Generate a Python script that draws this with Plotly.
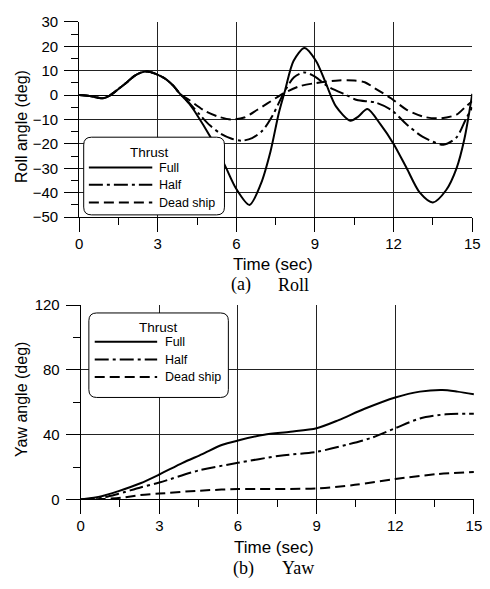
import plotly.graph_objects as go

W, H = 490, 589

# ---------------- data ----------------
roll_full_t = [0, 0.4, 0.9, 1.15, 1.5, 1.85, 2.1, 2.35, 2.6, 2.9, 3.3, 3.6, 3.85, 4.2, 4.45, 5.0, 5.55, 6.0, 6.5,
               6.93, 7.3, 7.62, 7.86, 8.18, 8.6, 9.04, 9.42, 9.8, 10.35, 10.65, 11.0, 11.5, 12.0, 12.5, 13.0,
               13.5, 14.0, 14.4, 14.7, 15.0]
roll_full_v = [0, -0.4, -1.3, -0.3, 2.5, 5.5, 7.8, 9.2, 9.7, 8.8, 6.6, 3.8, 0.5, -3.5, -7.3, -17, -28.5, -38.5, -45,
               -36.5, -23.2, -7.3, 2, 14, 19.3, 14, 4.7, -4.6, -10.5, -8.8, -5.7, -12, -20, -30, -40,
               -44, -39, -30, -18, 0.5]

roll_half_t = [0, 0.4, 0.9, 1.15, 1.5, 1.85, 2.1, 2.35, 2.6, 2.9, 3.3, 3.6, 3.85, 4.2, 4.6, 5.0, 5.4, 5.8, 6.2,
               6.6, 7.0, 7.4, 7.8, 8.2, 8.6, 9.0, 9.5, 10.2, 10.6, 11.3, 11.9, 12.5, 13.1, 13.9, 14.4, 14.75, 15.0]
roll_half_v = [0, -0.4, -1.3, -0.3, 2.5, 5.5, 7.8, 9.2, 9.7, 8.8, 6.6, 3.8, 0.5, -3.2, -8, -12.5, -15.8, -17.8, -18.7,
               -17.6, -14.5, -8, 0.7, 7.3, 9.3, 7.6, 3.5, 0, -2, -3, -6, -12, -17, -20.3, -17.3, -10, -5]

roll_dead_t = [0, 0.4, 0.9, 1.15, 1.5, 1.85, 2.1, 2.35, 2.6, 2.9, 3.3, 3.6, 3.85, 4.2, 4.8, 5.3, 5.8, 6.3, 6.8,
               7.2, 7.8, 8.4, 9.0, 9.9, 10.5, 10.9, 11.3, 11.9, 12.5, 13.2, 13.8, 14.4, 14.75, 15.0]
roll_dead_v = [0, -0.4, -1.3, -0.3, 2.5, 5.5, 7.8, 9.2, 9.7, 8.8, 6.6, 3.8, 0.5, -2, -6.5, -8.8, -10, -9.2, -6,
               -3.3, 0.7, 3.6, 4.9, 6, 6, 5.3, 2.7, -1.3, -6, -9, -9.5, -8, -4.7, -2.5]

yaw_full_t = [0, 0.8, 1.42, 2.28, 3, 3.89, 4.64, 5.38, 6, 7, 8, 9, 9.84, 10.83, 12, 12.94, 13.8, 14.37, 15]
yaw_full_v = [0, 2, 5, 10, 15.4, 22.6, 28, 33.6, 36.4, 40, 41.8, 44, 49, 56, 63, 66.6, 67.6, 66.6, 65]

yaw_half_t = [0, 0.8, 1.42, 2.28, 3, 4.52, 6, 7.6, 9, 10.2, 11.08, 12, 12.94, 13.93, 15]
yaw_half_v = [0, 1, 3.4, 7.4, 10.4, 18, 22.6, 27, 29.4, 34, 38, 44, 50, 52.6, 53]

yaw_dead_t = [0, 0.8, 1.54, 2.28, 3, 4.52, 6, 9, 10.46, 12, 13.56, 15]
yaw_dead_v = [0, 0.2, 1, 2.7, 3.6, 5.4, 6.4, 6.8, 9, 12.6, 15.6, 17]

series_names = ["Full", "Half", "Dead ship"]
legend_title = "Thrust"
x_ticks = [0, 3, 6, 9, 12, 15]
roll_ticks = [30, 20, 10, 0, -10, -20, -30, -40, -50]
yaw_ticks = [0, 40, 80, 120]

# ---------------- styles ----------------
dashes = ["solid", "14px,4px,3px,4px", "10px,5px"]
LW = 2
SANS = "Liberation Sans, Arial, sans-serif"
SERIF = "Liberation Serif, Times New Roman, serif"


def X(px):
    return px / W


def Y(py):
    return 1 - py / H


fig = go.Figure()
roll = [(roll_full_t, roll_full_v), (roll_half_t, roll_half_v), (roll_dead_t, roll_dead_v)]
yaw = [(yaw_full_t, yaw_full_v), (yaw_half_t, yaw_half_v), (yaw_dead_t, yaw_dead_v)]
for i, (t, v) in enumerate(roll):
    fig.add_trace(go.Scatter(x=t, y=v, mode="lines", name=series_names[i], showlegend=False,
                             line=dict(color="black", width=LW, dash=dashes[i], shape="spline", smoothing=0.8),
                             xaxis="x", yaxis="y"))
for i, (t, v) in enumerate(yaw):
    fig.add_trace(go.Scatter(x=t, y=v, mode="lines", name=series_names[i], showlegend=False,
                             line=dict(color="black", width=LW, dash=dashes[i], shape="spline", smoothing=0.8),
                             xaxis="x2", yaxis="y2"))

grid = dict(showgrid=True, gridcolor="#222", gridwidth=1)
common_x = dict(range=[0, 15], tickmode="array", tickvals=x_ticks, ticks="outside", ticklen=14,
                tickcolor="black", tickwidth=1, showline=True, linecolor="black", linewidth=1,
                zeroline=False, tickfont=dict(family=SANS, size=15, color="black"),
                ticklabelstandoff=-1,
                minor=dict(tick0=0, dtick=1.5, ticks="outside", ticklen=7, tickcolor="black", showgrid=False),
                **grid)

fig.update_layout(
    width=W, height=H, margin=dict(l=0, r=0, t=0, b=0),
    paper_bgcolor="white", plot_bgcolor="white", showlegend=False,
    xaxis=dict(domain=[X(77), X(480)], anchor="y", **common_x),
    yaxis=dict(domain=[Y(214.3), Y(13.3)], anchor="x", range=[-50, 30], tickmode="array",
               tickvals=roll_ticks, ticks="outside", ticklen=14, tickcolor="black", showline=True,
               linecolor="black", linewidth=1, zeroline=True, zerolinecolor="black", zerolinewidth=1,
               tickfont=dict(family=SANS, size=15, color="black"), ticklabelstandoff=3,
               minor=dict(tick0=0, dtick=5, ticks="outside", ticklen=7, tickcolor="black", showgrid=False),
               **grid),
    xaxis2=dict(domain=[X(78.6), X(481.7)], anchor="y2", **common_x),
    yaxis2=dict(domain=[Y(505), Y(305)], anchor="x2", range=[0, 120], tickmode="array",
                tickvals=yaw_ticks, ticks="outside", ticklen=14, tickcolor="black", showline=True,
                linecolor="black", linewidth=1, zeroline=False,
                tickfont=dict(family=SANS, size=15, color="black"), ticklabelstandoff=3,
                minor=dict(tick0=0, dtick=20, ticks="outside", ticklen=7, tickcolor="black", showgrid=False),
                **grid),
)

ann = []
shapes = []


def text(s, px, py, size, family=SANS, xanchor="center", angle=0):
    ann.append(dict(text=s, x=X(px), y=Y(py), xref="paper", yref="paper", showarrow=False,
                    xanchor=xanchor, yanchor="middle", textangle=angle,
                    font=dict(family=family, size=size, color="black")))


# axis titles and captions
text("Roll angle (deg)", 18, 121, 16, angle=-90)
text("Yaw angle (deg)", 18, 402, 16, angle=-90)
text("Time (sec)", 276, 263, 17)
text("Time (sec)", 277, 554, 17)
text("(a)", 242.5, 284, 18, family=SERIF)
text("Roll", 296.5, 284, 18, family=SERIF)
text("(b)", 245, 576, 18, family=SERIF)
text("Yaw", 301, 576, 18, family=SERIF)


def rounded_box(x0, y0, x1, y1, r=8):
    p = (f"M {X(x0 + r)} {Y(y0)} L {X(x1 - r)} {Y(y0)} Q {X(x1)} {Y(y0)} {X(x1)} {Y(y0 + r)} "
         f"L {X(x1)} {Y(y1 - r)} Q {X(x1)} {Y(y1)} {X(x1 - r)} {Y(y1)} "
         f"L {X(x0 + r)} {Y(y1)} Q {X(x0)} {Y(y1)} {X(x0)} {Y(y1 - r)} "
         f"L {X(x0)} {Y(y0 + r)} Q {X(x0)} {Y(y0)} {X(x0 + r)} {Y(y0)} Z")
    shapes.append(dict(type="path", path=p, xref="paper", yref="paper",
                       fillcolor="white", line=dict(color="black", width=1), layer="above"))


def legend(box, title_xy, rows_y, line_x0, line_x1, text_x):
    rounded_box(*box)
    text(legend_title, title_xy[0], title_xy[1], 13.5)
    for i, ry in enumerate(rows_y):
        shapes.append(dict(type="line", xref="paper", yref="paper", x0=X(line_x0), x1=X(line_x1),
                           y0=Y(ry), y1=Y(ry), line=dict(color="black", width=LW, dash=dashes[i]),
                           layer="above"))
        text(series_names[i], text_x, ry, 12.5, xanchor="left")


legend((81.7, 132, 226, 212), (149, 147.5), [163.3, 181, 199.3], 87, 152, 157)
legend((87, 313, 230, 400), (158, 328), [342.7, 361, 379], 93, 157, 163)

fig.update_layout(annotations=ann, shapes=shapes)
fig.write_html("out.html")
